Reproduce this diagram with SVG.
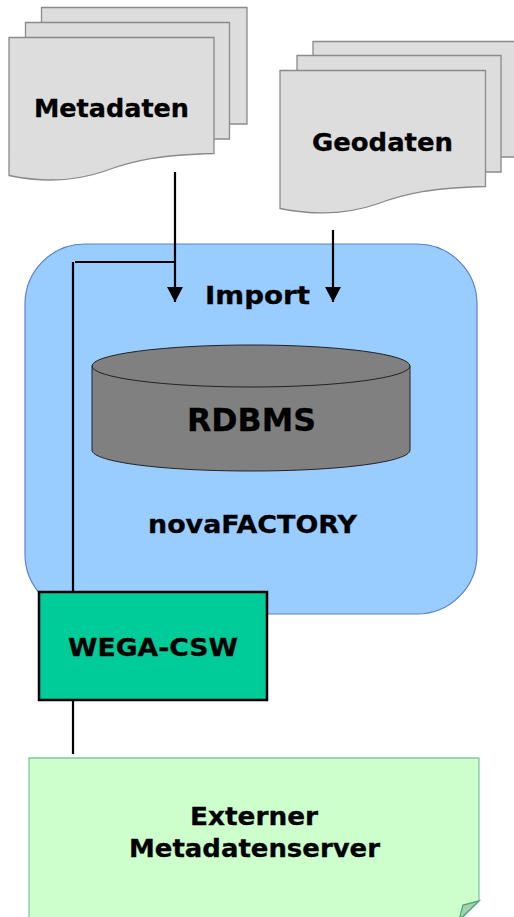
<svg xmlns="http://www.w3.org/2000/svg" width="514" height="917" viewBox="0 0 514 917">
<style>
text{font-family:"DejaVu Sans",Verdana,sans-serif;font-weight:bold;fill:#000;stroke:#000;stroke-width:.3;font-size:24.500px}
.doc{fill:#ddd;stroke:#8a8a8a;stroke-width:1.300}
.conn{fill:none;stroke:#000;stroke-width:2.200}
</style>
<defs>
<marker id="arrow" markerUnits="userSpaceOnUse" markerWidth="16" markerHeight="16" refX="15" refY="8" orient="auto"><path d="M0 0L15 8L0 16Z" fill="#000"/></marker>
</defs>
<rect width="514" height="917" fill="#fff"/>
<g id="metadaten">
<path class="doc" d="M41.500 7.500H247V124H41.500Z"/>
<path class="doc" d="M25.500 22.500H229.500V139H25.500Z"/>
<path class="doc" d="M9 37.500H214V153.500C160 155 135 160 105 171C75 181.500 45 183 9 175.500Z"/>
<text x="34" y="117" textLength="155" lengthAdjust="spacingAndGlyphs">Metadaten</text>
</g>
<g id="geodaten">
<path class="doc" d="M313 41.500H516V157H313Z"/>
<path class="doc" d="M297 55.500H501V172H297Z"/>
<path class="doc" d="M280 70.500H485.500V186.500C432 188 407 193 377 204C347 214.500 317 216 280 208.500Z"/>
<text x="312" y="151" textLength="141" lengthAdjust="spacingAndGlyphs">Geodaten</text>
</g>
<g id="novafactory">
<rect x="25" y="244" width="452" height="370" rx="60" fill="#9cf" stroke="#5b80d8" stroke-width="1.200"/>
<text x="205" y="304" textLength="105" lengthAdjust="spacingAndGlyphs">Import</text>
<text x="148" y="533" textLength="209" lengthAdjust="spacingAndGlyphs">novaFACTORY</text>
</g>
<g id="rdbms">
<path d="M92 366V450C92 462 163 471 251 471S410 462 410 450V366Z" fill="#808080" stroke="#222" stroke-width="1"/>
<ellipse cx="251" cy="366" rx="159" ry="21" fill="#808080" stroke="#222" stroke-width="1"/>
<text x="187" y="431" textLength="129" lengthAdjust="spacingAndGlyphs" style="font-size:31.500px">RDBMS</text>
</g>
<g id="connectors">
<path class="conn" d="M175 172V302" marker-end="url(#arrow)"/>
<path class="conn" d="M333 230V302" marker-end="url(#arrow)"/>
<path class="conn" d="M175 262H75"/>
<path class="conn" d="M73 262V592"/>
<path class="conn" d="M73 700V754"/>
</g>
<g id="wega-csw">
<rect x="39" y="592" width="228" height="108" fill="#00cc99" stroke="#000" stroke-width="2.500"/>
<text x="68" y="656" textLength="170" lengthAdjust="spacingAndGlyphs">WEGA-CSW</text>
</g>
<g id="metadatenserver">
<path d="M29 758H479V901L455 925H29Z" fill="#cfc" stroke="#80c99a" stroke-width="1.300"/>
<path d="M479 901L463 905L459 920Z" fill="#a9d1a9" stroke="#4fa878" stroke-width="1.300"/>
<text x="190" y="825" textLength="128" lengthAdjust="spacingAndGlyphs">Externer</text>
<text x="129" y="857" textLength="251" lengthAdjust="spacingAndGlyphs">Metadatenserver</text>
</g>
</svg>
